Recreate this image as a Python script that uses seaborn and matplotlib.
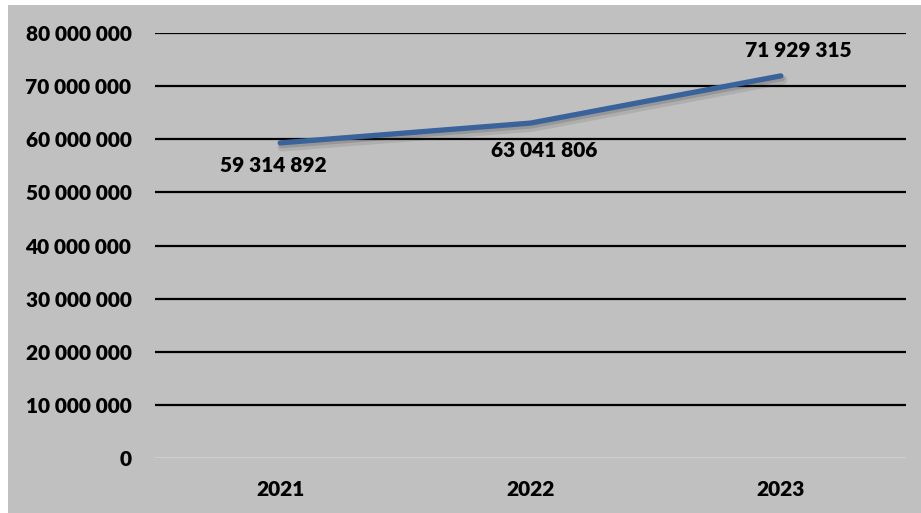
import matplotlib
matplotlib.use("Agg")
import matplotlib.pyplot as plt
import matplotlib.patheffects as pe
from matplotlib.patches import Rectangle
from matplotlib.ticker import FuncFormatter
import seaborn as sns

years = ["2021", "2022", "2023"]
values = [59314892, 63041806, 71929315]
y_ticks = [0, 10000000, 20000000, 30000000, 40000000, 50000000, 60000000, 70000000, 80000000]

sns.set_theme(style="white")
plt.rcParams["font.family"] = ["Lato", "DejaVu Sans"]

W, H = 921, 513
fig = plt.figure(figsize=(W / 100, H / 100), dpi=100, facecolor="white")

# grey chart area
bg = "#c0c0c0"
fig.patches.append(Rectangle((8 / W, 0), 1 - 8 / W, 1 - 5 / H, transform=fig.transFigure,
                             facecolor=bg, edgecolor="none", zorder=-10))

ax = fig.add_axes([155 / W, 1 - 458 / H, (906 - 155) / W, (458 - 33) / H])
ax.set_facecolor(bg)
ax.patch.set_alpha(0)

pos = list(range(len(years)))
sns.lineplot(x=pos, y=values, ax=ax, color="#3a639c", linewidth=3.8,
             solid_capstyle="round", solid_joinstyle="round", zorder=3)
line = ax.lines[0]
line.set_path_effects([
    pe.SimpleLineShadow(offset=(1.5, -3), shadow_color="#303030", alpha=0.12, linewidth=6.5),
    pe.SimpleLineShadow(offset=(1, -2), shadow_color="#303030", alpha=0.18),
    pe.Normal(),
])

ax.set_xlim(-0.5, len(years) - 0.5)
ax.set_ylim(0, 80000000)
ax.set_yticks(y_ticks)
ax.yaxis.set_major_formatter(FuncFormatter(lambda v, _: f"{int(v):,}".replace(",", " ")))
ax.set_xticks(pos)
ax.set_xticklabels(years)

for v in y_ticks[1:]:
    ax.axhline(v, color="black", linewidth=1.6, zorder=1)
ax.axhline(0, color="#d2d2d2", linewidth=1.2, zorder=1)

for s in ax.spines.values():
    s.set_visible(False)
ax.tick_params(axis="both", length=0, labelsize=15, colors="black")
ax.tick_params(axis="y", pad=17)
ax.tick_params(axis="x", pad=16)
for t in ax.get_xticklabels() + ax.get_yticklabels():
    t.set_fontweight("heavy")
ax.set_xlabel("")
ax.set_ylabel("")

# value labels
offsets = [(-7, -23), (14, -27), (17, 25)]
for x, v, off in zip(pos, values, offsets):
    ax.annotate(f"{v:,}".replace(",", " "), (x, v), xytext=off, textcoords="offset pixels",
                ha="center", va="center", fontsize=15, fontweight="heavy", color="black", zorder=4)

fig.savefig("out.png", dpi=100, facecolor="white")
